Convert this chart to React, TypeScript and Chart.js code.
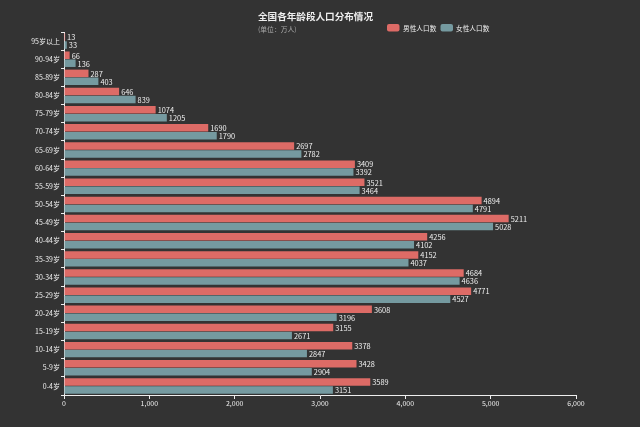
import React, { useEffect, useRef } from "react";
import { Chart, registerables } from "chart.js";

Chart.register(...registerables);

const categories = [
  "95岁以上", "90-94岁", "85-89岁", "80-84岁", "75-79岁", "70-74岁", "65-69岁",
  "60-64岁", "55-59岁", "50-54岁", "45-49岁", "40-44岁", "35-39岁", "30-34岁",
  "25-29岁", "20-24岁", "15-19岁", "10-14岁", "5-9岁", "0-4岁",
];
const maleValues = [13, 66, 287, 646, 1074, 1690, 2697, 3409, 3521, 4894, 5211, 4256, 4152, 4684, 4771, 3608, 3155, 3378, 3428, 3589];
const femaleValues = [33, 136, 403, 839, 1205, 1790, 2782, 3392, 3464, 4791, 5028, 4102, 4037, 4636, 4527, 3196, 2671, 2847, 2904, 3151];
const xMin = 0;
const xMax = 6000;
const xStep = 1000;
const titleText = "全国各年龄段人口分布情况";
const subtitleText = "(单位：万人)";
const seriesNames = ["男性人口数", "女性人口数"];
const seriesColors = ["#dd6b66", "#759aa0"];

const FONT = '"Noto Sans CJK SC", "Noto Sans", sans-serif';
const BG = "#333333";
const TEXT = "#eeeeee";

function roundRect(ctx: CanvasRenderingContext2D, x: number, y: number, w: number, h: number, r: number) {
  ctx.beginPath();
  ctx.moveTo(x + r, y);
  ctx.lineTo(x + w - r, y);
  ctx.quadraticCurveTo(x + w, y, x + w, y + r);
  ctx.lineTo(x + w, y + h - r);
  ctx.quadraticCurveTo(x + w, y + h, x + w - r, y + h);
  ctx.lineTo(x + r, y + h);
  ctx.quadraticCurveTo(x, y + h, x, y + h - r);
  ctx.lineTo(x, y + r);
  ctx.quadraticCurveTo(x, y, x + r, y);
  ctx.closePath();
}

const decorPlugin = {
  id: "decor",
  beforeDraw(chart: any) {
    const ctx = chart.ctx as CanvasRenderingContext2D;
    ctx.save();
    ctx.fillStyle = BG;
    ctx.fillRect(0, 0, chart.width, chart.height);
    ctx.restore();
  },
  afterDraw(chart: any) {
    const ctx = chart.ctx as CanvasRenderingContext2D;
    ctx.save();
    // title
    ctx.fillStyle = TEXT;
    ctx.font = `bold 9.6px ${FONT}`;
    ctx.textAlign = "center";
    ctx.textBaseline = "middle";
    ctx.fillText(titleText, 315.5, 16);
    // subtitle
    ctx.fillStyle = "#aaaaaa";
    ctx.font = `6.8px ${FONT}`;
    ctx.textAlign = "left";
    ctx.fillText(subtitleText, 258, 29);
    // legend
    const items = [
      { box: 387, text: 403 },
      { box: 440.5, text: 456 },
    ];
    items.forEach((it, i) => {
      ctx.fillStyle = seriesColors[i];
      roundRect(ctx, it.box, 24, 12.5, 7.5, 2);
      ctx.fill();
      ctx.fillStyle = TEXT;
      ctx.font = `6.7px ${FONT}`;
      ctx.textAlign = "left";
      ctx.textBaseline = "middle";
      ctx.fillText(seriesNames[i], it.text, 28);
    });
    ctx.restore();
  },
  afterDatasetsDraw(chart: any) {
    const ctx = chart.ctx as CanvasRenderingContext2D;
    ctx.save();
    ctx.fillStyle = TEXT;
    ctx.font = `7.4px ${FONT}`;
    ctx.textAlign = "left";
    ctx.textBaseline = "middle";
    chart.data.datasets.forEach((ds: any, di: number) => {
      const meta = chart.getDatasetMeta(di);
      meta.data.forEach((el: any, i: number) => {
        ctx.fillText(String(ds.data[i]), el.x + 2, el.y + 0.5);
      });
    });
    ctx.restore();
  },
};

export default function App() {
  const canvasRef = useRef<HTMLCanvasElement | null>(null);

  useEffect(() => {
    document.body.style.margin = "0";
    document.body.style.background = BG;
    const canvas = canvasRef.current;
    if (!canvas) return;
    const chart = new Chart(canvas, {
      type: "bar",
      data: {
        labels: categories,
        datasets: [
          {
            label: seriesNames[0],
            data: maleValues,
            backgroundColor: seriesColors[0],
            categoryPercentage: 0.88,
            barPercentage: 0.94,
          },
          {
            label: seriesNames[1],
            data: femaleValues,
            backgroundColor: seriesColors[1],
            categoryPercentage: 0.88,
            barPercentage: 0.94,
          },
        ],
      },
      options: {
        indexAxis: "y",
        animation: false,
        responsive: true,
        maintainAspectRatio: false,
        devicePixelRatio: 1,
        layout: { padding: { top: 32, right: 64, left: 0, bottom: 0 } },
        plugins: {
          legend: { display: false },
          title: { display: false },
          tooltip: { enabled: false },
        },
        scales: {
          y: {
            type: "category",
            offset: true,
            grid: {
              display: true,
              drawOnChartArea: false,
              color: TEXT,
              tickLength: 3,
              offset: true,
            },
            border: { color: TEXT, width: 1 },
            ticks: {
              color: TEXT,
              font: { size: 7, family: FONT },
              padding: 1,
              autoSkip: false,
            },
            afterFit: (scale: any) => {
              scale.width = 64;
            },
          },
          x: {
            type: "linear",
            min: xMin,
            max: xMax,
            grid: {
              display: true,
              drawOnChartArea: false,
              color: TEXT,
              tickLength: 4,
            },
            border: { color: TEXT, width: 1 },
            ticks: {
              stepSize: xStep,
              color: TEXT,
              font: { size: 7, family: FONT },
              padding: 0,
              callback: (v: any) => Number(v).toLocaleString("en-US"),
            },
            afterFit: (scale: any) => {
              scale.height = 32;
            },
          },
        },
      },
      plugins: [decorPlugin],
    } as any);
    return () => chart.destroy();
  }, []);

  return (
    <div style={{ position: "fixed", left: 0, top: 0, width: 640, height: 427, background: BG }}>
      <canvas ref={canvasRef} width={640} height={427} />
    </div>
  );
}
